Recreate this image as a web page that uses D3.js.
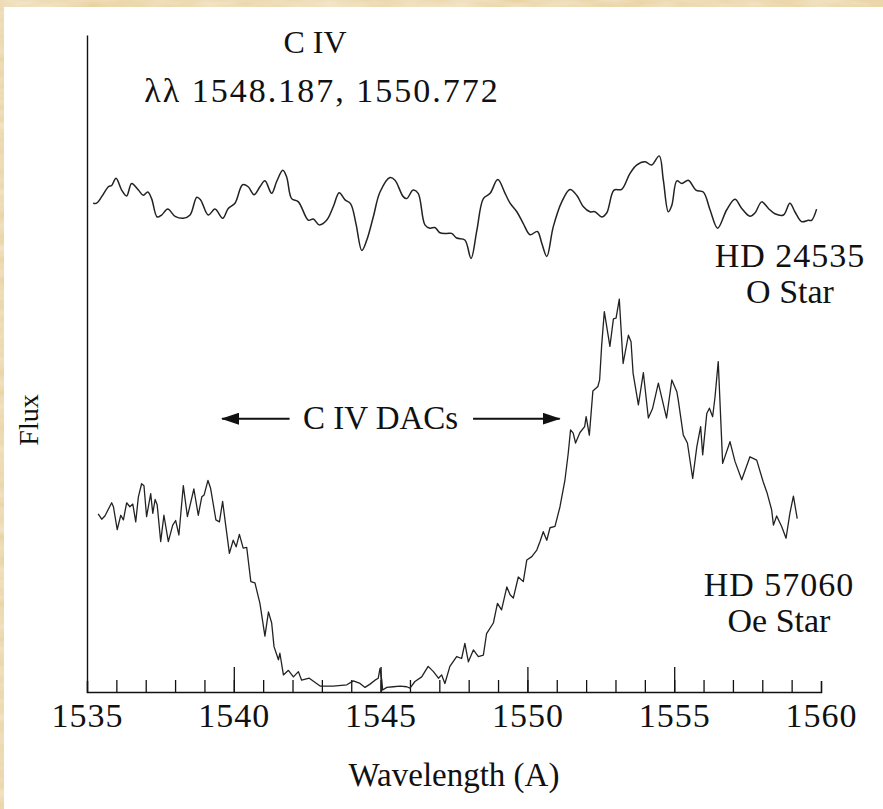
<!DOCTYPE html>
<html lang="en">
<head>
    <meta charset="UTF-8">
    <title>C IV DACs</title>
    <script src="https://d3js.org/d3.v7.min.js"></script>
    <style>
        body { margin: 0; background: #eedcb2; }
        svg { display: block; }
        text { font-family: "Liberation Serif", "Times New Roman", serif; fill: #111; }
    </style>
</head>
<body>
    <div id="chart"></div>
    <script>

        // HD 24535 (O star) - wavelength (A) and relative flux
        const hd24535Wave = [1535.21,1535.33,1535.50,1535.73,1535.84,1535.99,1536.18,1536.35,1536.52,1536.75,
            1536.92,1537.07,1537.20,1537.39,1537.54,1537.75,1538.00,1538.28,1538.51,1538.74,
            1538.87,1539.13,1539.36,1539.62,1539.81,1540.04,1540.30,1540.49,1540.69,1540.89,
            1541.06,1541.29,1541.46,1541.67,1541.80,1541.97,1542.20,1542.54,1542.71,1542.91,
            1543.16,1543.39,1543.59,1543.79,1543.98,1544.16,1544.36,1544.53,1544.75,1544.98,
            1545.32,1545.49,1545.77,1545.89,1546.11,1546.28,1546.51,1546.68,1546.85,1547.02,
            1547.25,1547.42,1547.59,1547.87,1548.08,1548.28,1548.50,1548.73,1548.99,1549.24,
            1549.41,1549.64,1549.86,1550.09,1550.34,1550.49,1550.66,1550.88,1551.17,1551.45,
            1551.68,1551.90,1552.13,1552.30,1552.53,1552.70,1552.95,1553.21,1553.49,1553.72,
            1554.01,1554.23,1554.49,1554.63,1554.80,1554.92,1555.09,1555.26,1555.48,1555.74,
            1555.99,1556.22,1556.48,1556.79,1557.07,1557.30,1557.58,1557.75,1557.98,1558.21,
            1558.43,1558.72,1558.94,1559.11,1559.34,1559.57,1559.68,1559.85];
        const hd24535Flux = [74.4,74.4,75.4,76.9,77.1,78.2,76.4,75.5,77.4,76.4,
            75.6,76.1,75.1,72.3,72.6,73.5,72.4,72.1,72.6,75.3,
            74.9,72.6,73.5,72.1,73.6,74.4,77.2,76.9,75.7,76.9,
            77.8,75.9,77.7,79.4,78.4,75.1,74.6,71.8,72.0,71.1,
            71.8,73.9,76.0,74.9,74.3,71.3,67.2,68.8,72.3,76.1,
            78.3,77.9,75.4,75.1,76.4,75.9,71.1,70.6,70.7,69.9,
            69.8,69.8,69.1,68.8,66.0,70.3,75.1,75.9,78.0,75.9,
            74.4,73.1,71.3,69.6,70.1,68.3,66.3,70.8,74.6,76.5,
            75.6,73.9,73.1,73.1,72.3,72.9,76.4,76.5,78.9,80.2,
            80.7,80.2,81.6,77.9,73.1,74.1,77.8,77.4,77.9,76.4,
            76.1,73.4,70.6,73.4,75.0,73.6,72.4,72.9,74.6,73.6,
            72.8,72.6,74.4,73.1,71.6,71.8,71.8,73.5];

        // HD 57060 (Oe star)
        const hd57060Wave = [1535.38,1535.50,1535.61,1535.84,1535.90,1536.03,1536.15,1536.24,1536.35,1536.46,
            1536.56,1536.66,1536.75,1536.86,1536.94,1537.03,1537.17,1537.24,1537.32,1537.39,
            1537.51,1537.62,1537.77,1537.92,1538.02,1538.13,1538.28,1538.42,1538.64,1538.79,
            1538.91,1538.99,1539.12,1539.21,1539.39,1539.51,1539.62,1539.70,1539.85,1539.98,
            1540.08,1540.19,1540.32,1540.44,1540.58,1540.72,1540.89,1541.06,1541.18,1541.29,
            1541.37,1541.52,1541.57,1541.69,1541.86,1542.03,1542.20,1542.31,1542.57,1542.94,
            1543.39,1543.85,1544.07,1544.30,1544.47,1544.64,1544.81,1544.92,1544.98,1545.04,
            1545.07,1545.21,1545.43,1545.66,1545.89,1546.00,1546.17,1546.40,1546.62,1546.80,
            1546.97,1547.08,1547.19,1547.36,1547.59,1547.76,1547.87,1547.99,1548.16,1548.33,
            1548.50,1548.61,1548.84,1548.98,1549.12,1549.30,1549.41,1549.52,1549.69,1549.86,
            1549.98,1550.15,1550.32,1550.43,1550.54,1550.66,1550.77,1550.94,1551.11,1551.28,
            1551.39,1551.47,1551.56,1551.64,1551.79,1551.95,1552.00,1552.11,1552.23,1552.40,
            1552.46,1552.53,1552.62,1552.81,1552.93,1553.02,1553.13,1553.26,1553.44,1553.53,
            1553.60,1553.78,1553.95,1554.12,1554.26,1554.46,1554.74,1554.92,1555.09,1555.14,
            1555.31,1555.45,1555.63,1555.77,1555.90,1555.97,1556.11,1556.20,1556.31,1556.39,
            1556.50,1556.65,1556.90,1557.07,1557.30,1557.58,1557.81,1558.03,1558.17,1558.32,
            1558.38,1558.49,1558.66,1558.81,1558.94,1559.06,1559.19];
        const hd57060Flux = [27.1,26.3,26.8,28.8,28.2,24.7,26.9,26.2,28.8,28.2,
            28.6,25.9,29.7,31.7,31.4,26.7,30.2,27.2,29.3,28.5,
            22.9,26.9,22.9,25.4,26.1,23.9,31.4,26.7,30.9,26.9,
            29.7,30.0,32.2,31.0,26.2,25.9,29.0,26.2,21.1,23.1,
            22.1,24.0,21.9,22.0,16.8,16.6,13.5,8.5,12.2,10.5,
            6.9,4.9,5.9,2.6,3.3,2.3,3.1,1.8,2.1,0.9,
            0.9,1.1,1.7,1.3,0.7,1.2,1.8,2.1,3.6,1.8,
            0.3,0.7,0.8,0.9,0.8,0.6,1.6,2.3,3.9,3.1,
            2.1,2.6,1.3,3.9,5.4,5.1,7.4,4.6,6.4,5.4,
            5.6,8.9,10.5,13.5,12.5,16.0,14.8,14.3,17.5,16.8,
            20.1,20.6,21.6,22.9,24.4,23.1,25.0,25.2,28.2,32.3,
            36.3,39.9,39.4,37.9,39.5,40.4,41.9,39.1,45.8,46.5,
            47.5,52.8,57.9,52.6,56.8,56.9,59.8,50.0,54.3,53.3,
            48.5,43.7,48.6,41.7,43.1,47.0,41.7,47.5,45.7,44.4,
            39.1,37.9,32.5,37.3,40.4,36.1,42.4,43.2,41.9,44.9,
            50.3,34.8,38.1,35.1,32.3,35.8,35.3,32.0,30.2,27.7,
            25.4,26.8,25.2,23.4,27.2,29.8,26.4];

        const majorTicks = [1535, 1540, 1545, 1550, 1555, 1560];
        const minorTicks = d3.range(1536, 1560);
        const starLabels = ["HD 24535", "O Star", "HD 57060", "Oe Star"];
        const titleLines = ["C IV", "λλ 1548.187, 1550.772"];
        const dacLabel = "C IV DACs";
        // arrow tails / tips in wavelength, at one flux level
        const dacArrows = [[1541.9, 1539.6], [1548.15, 1551.1]];
        const dacFlux = 41.6;

        var width = 883;
        var height = 809;

        var svg = d3.select("#chart")
            .append("svg")
            .attr("width", width)
            .attr("height", height);

        var defs = svg.append("defs");

        // parchment look for the border
        var paper = defs.append("filter").attr("id", "paper")
            .attr("x", 0).attr("y", 0).attr("width", 1).attr("height", 1);
        paper.append("feTurbulence")
            .attr("type", "fractalNoise")
            .attr("baseFrequency", "0.02 0.09")
            .attr("numOctaves", 3)
            .attr("seed", 4);
        paper.append("feColorMatrix")
            .attr("type", "matrix")
            .attr("values", "0 0 0 0 0.93  0 0 0 0 0.86  0 0 0 0 0.70  0 0 0 -0.9 0.75");
        paper.append("feComposite").attr("in2", "SourceGraphic").attr("operator", "over");

        svg.append("rect")
            .attr("width", width)
            .attr("height", height)
            .attr("fill", "#e9d2a0")
            .attr("filter", "url(#paper)");

        // white sheet over the parchment
        svg.append("rect")
            .attr("x", 4)
            .attr("y", 7)
            .attr("width", width - 4)
            .attr("height", height - 7)
            .attr("fill", "#fff");

        var x = d3.scaleLinear().domain([1535, 1560]).range([87, 821]);
        var y = d3.scaleLinear().domain([0, 100]).range([692, 35]);

        defs.append("marker")
            .attr("id", "head")
            .attr("viewBox", "0 0 18 12")
            .attr("refX", 17)
            .attr("refY", 6)
            .attr("markerWidth", 9)
            .attr("markerHeight", 6)
            .attr("markerUnits", "strokeWidth")
            .attr("orient", "auto")
            .append("path")
            .attr("d", "M0,0 L18,6 L0,12 z")
            .attr("fill", "#111");

        // ticks pointing up into the plot
        svg.append("g")
            .attr("transform", "translate(0," + y(0) + ")")
            .call(d3.axisTop(x).tickValues(minorTicks).tickSize(12).tickSizeOuter(11).tickFormat(""))
            .call(function(g) { g.selectAll("line").attr("stroke", "#111").attr("stroke-width", 1.3); })
            .call(function(g) { g.select(".domain").attr("stroke", "#111").attr("stroke-width", 1.6); });

        svg.append("g")
            .attr("transform", "translate(0," + y(0) + ")")
            .call(d3.axisTop(x).tickValues(majorTicks.slice(1, -1)).tickSize(25).tickFormat(""))
            .call(function(g) { g.select(".domain").remove(); })
            .call(function(g) { g.selectAll("line").attr("stroke", "#111").attr("stroke-width", 1.3); });

        svg.append("g")
            .attr("transform", "translate(0," + y(0) + ")")
            .call(d3.axisBottom(x).tickValues(majorTicks).tickSize(0).tickPadding(11).tickFormat(d3.format("d")))
            .call(function(g) { g.select(".domain").remove(); })
            .call(function(g) {
                g.selectAll("text")
                    .attr("font-size", "34px")
                    .attr("font-family", "Liberation Serif")
                    .attr("letter-spacing", "1px")
                    .attr("fill", "#111");
            });

        svg.append("g")
            .attr("transform", "translate(" + x(1535) + ",0)")
            .call(d3.axisLeft(y).tickValues([]).tickSizeOuter(0))
            .call(function(g) { g.select(".domain").attr("stroke", "#111").attr("stroke-width", 1.4); });

        // spectra
        var lineTop = d3.line()
            .x(function(d) { return x(d[0]); })
            .y(function(d) { return y(d[1]); })
            .curve(d3.curveCatmullRom);

        var lineBottom = d3.line()
            .x(function(d) { return x(d[0]); })
            .y(function(d) { return y(d[1]); });

        svg.append("path")
            .datum(d3.zip(hd24535Wave, hd24535Flux))
            .attr("d", lineTop)
            .attr("fill", "none")
            .attr("stroke", "#222")
            .attr("stroke-width", 1.5);

        svg.append("path")
            .datum(d3.zip(hd57060Wave, hd57060Flux))
            .attr("d", lineBottom)
            .attr("fill", "none")
            .attr("stroke", "#222")
            .attr("stroke-width", 1.3)
            .attr("stroke-linejoin", "round");

        // title
        svg.append("text")
            .attr("x", 315)
            .attr("y", 53)
            .attr("text-anchor", "middle")
            .attr("font-size", "32px")
            .text(titleLines[0]);

        svg.append("text")
            .attr("x", 322)
            .attr("y", 102)
            .attr("text-anchor", "middle")
            .attr("font-size", "34px")
            .attr("letter-spacing", "2px")
            .text(titleLines[1]);

        // star labels
        svg.append("text").attr("x", 790).attr("y", 267).attr("text-anchor", "middle")
            .attr("font-size", "34px").attr("letter-spacing", "1px").text(starLabels[0]);
        svg.append("text").attr("x", 790).attr("y", 303).attr("text-anchor", "middle")
            .attr("font-size", "34px").text(starLabels[1]);
        svg.append("text").attr("x", 779).attr("y", 596).attr("text-anchor", "middle")
            .attr("font-size", "34px").attr("letter-spacing", "1px").text(starLabels[2]);
        svg.append("text").attr("x", 779).attr("y", 632).attr("text-anchor", "middle")
            .attr("font-size", "34px").text(starLabels[3]);

        // DAC annotation
        svg.append("text")
            .attr("x", x(1545))
            .attr("y", y(dacFlux) + 10)
            .attr("text-anchor", "middle")
            .attr("font-size", "33px")
            .text(dacLabel);

        svg.selectAll(".arrow")
            .data(dacArrows)
            .enter().append("line")
            .attr("class", "arrow")
            .attr("x1", function(d) { return x(d[0]); })
            .attr("x2", function(d) { return x(d[1]); })
            .attr("y1", y(dacFlux))
            .attr("y2", y(dacFlux))
            .attr("stroke", "#111")
            .attr("stroke-width", 2)
            .attr("marker-end", "url(#head)");

        // axis titles
        svg.append("text")
            .attr("x", x(1547.5))
            .attr("y", 786)
            .attr("text-anchor", "middle")
            .attr("font-size", "33px")
            .text("Wavelength (A)");

        svg.append("text")
            .attr("transform", "translate(38,420) rotate(-90)")
            .attr("text-anchor", "middle")
            .attr("font-size", "28px")
            .text("Flux");
    </script>
</body>
</html>
